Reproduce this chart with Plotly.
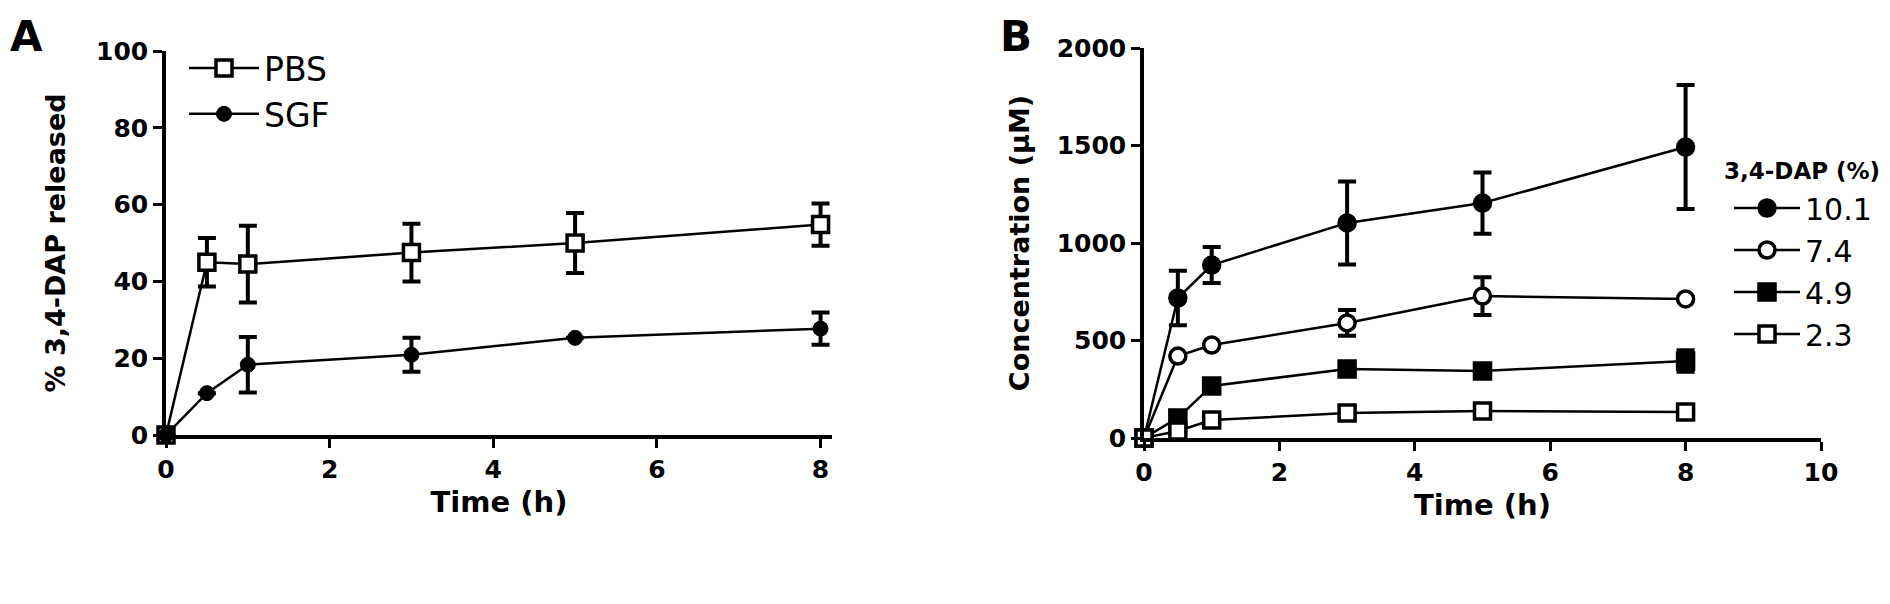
import plotly.graph_objects as go

# Panel A - release data
time_a = [0, 0.5, 1, 3, 5, 8]
pbs = [0, 45, 44.5, 47.5, 50, 54.8]
pbs_err = [0, 6.3, 10, 7.5, 7.8, 5.5]
sgf = [0, 10.9, 18.3, 20.9, 25.3, 27.7]
sgf_err = [0, 0, 7.2, 4.4, 0, 4.2]

# Panel B - concentration by loading
time_b = [0, 0.5, 1, 3, 5, 8]
loadings = ["10.1", "7.4", "4.9", "2.3"]
conc = {
    "10.1": [0, 718, 887, 1103, 1205, 1492],
    "7.4": [0, 420, 477, 590, 728, 713],
    "4.9": [0, 103, 267, 354, 344, 395],
    "2.3": [0, 36, 92, 128, 138, 133],
}
conc_err = {
    "10.1": [0, 140, 92, 213, 157, 318],
    "7.4": [0, 0, 0, 66, 97, 0],
    "4.9": [0, 0, 0, 0, 0, 55],
    "2.3": [0, 0, 0, 0, 0, 0],
}
markers = {
    "10.1": ("circle", "black"),
    "7.4": ("circle", "white"),
    "4.9": ("square", "black"),
    "2.3": ("square", "white"),
}

W, H = 1890, 604
FONT = "DejaVu Sans"


def px_x(p):
    return p / W


def px_y(p):
    return (H - p) / H


def err(vals):
    return dict(type="data", array=vals, visible=True, color="black", thickness=4, width=9)


fig = go.Figure()

fig.add_trace(go.Scatter(
    x=time_a, y=pbs, name="PBS", mode="lines+markers",
    line=dict(color="black", width=2.5),
    marker=dict(symbol="square", size=16, color="white", line=dict(color="black", width=3.5)),
    error_y=err(pbs_err), cliponaxis=False, xaxis="x", yaxis="y", legend="legend",
))
fig.add_trace(go.Scatter(
    x=time_a, y=sgf, name="SGF", mode="lines+markers",
    line=dict(color="black", width=2.5),
    marker=dict(symbol="circle", size=15, color="black", line=dict(color="black", width=1)),
    error_y=err(sgf_err), cliponaxis=False, xaxis="x", yaxis="y", legend="legend",
))

for name in loadings:
    sym, fill = markers[name]
    fig.add_trace(go.Scatter(
        x=time_b, y=conc[name], name=name, mode="lines+markers",
        line=dict(color="black", width=2.5),
        marker=dict(symbol=sym, size=16, color=fill, line=dict(color="black", width=3.5)),
        error_y=err(conc_err[name]), cliponaxis=False, xaxis="x2", yaxis="y2", legend="legend2",
    ))

axis_style = dict(
    showline=True, linewidth=3.5, linecolor="black", ticks="outside",
    tickwidth=3, ticklen=9, tickcolor="black", showgrid=False, zeroline=False,
    tickfont=dict(family=FONT, size=25, color="black", weight="bold"),
    automargin=False,
)
title_font = dict(family=FONT, size=27, color="black", weight="bold")
xtitle_font = dict(family=FONT, size=29, color="black", weight="bold")

fig.update_layout(
    width=W, height=H,
    margin=dict(l=0, r=0, t=0, b=0, autoexpand=False),
    plot_bgcolor="white", paper_bgcolor="white",
    xaxis=dict(domain=[px_x(158), px_x(824)], range=[0, 8.14], tickvals=[0, 2, 4, 6, 8],
               anchor="y", title=dict(text="Time (h)", font=xtitle_font, standoff=10), **axis_style),
    yaxis=dict(domain=[px_y(427), px_y(43)], range=[0, 100], tickvals=[0, 20, 40, 60, 80, 100],
               anchor="x", title=dict(text="% 3,4-DAP released", font=title_font, standoff=24), **axis_style),
    xaxis2=dict(domain=[px_x(1136), px_x(1813)], range=[0, 10], tickvals=[0, 2, 4, 6, 8, 10],
                anchor="y2", title=dict(text="Time (h)", font=xtitle_font, standoff=10), **axis_style),
    yaxis2=dict(domain=[px_y(430), px_y(40)], range=[0, 2000], tickvals=[0, 500, 1000, 1500, 2000],
                anchor="x2", title=dict(text="Concentration (μM)", font=title_font, standoff=20), **axis_style),
    legend=dict(x=px_x(176), y=px_y(32), xanchor="left", yanchor="top",
                font=dict(family=FONT, size=33, color="black"), itemwidth=70, bgcolor="rgba(0,0,0,0)"),
    legend2=dict(x=px_x(1721), y=px_y(174), xanchor="left", yanchor="top",
                 font=dict(family=FONT, size=30, color="black"), itemwidth=66, bgcolor="rgba(0,0,0,0)"),
    annotations=[
        dict(text="A", x=px_x(0), y=px_y(2), xref="paper", yref="paper", xanchor="left", yanchor="top",
             showarrow=False, font=dict(family=FONT, size=42, color="black", weight="bold")),
        dict(text="B", x=px_x(990), y=px_y(2), xref="paper", yref="paper", xanchor="left", yanchor="top",
             showarrow=False, font=dict(family=FONT, size=42, color="black", weight="bold")),
        dict(text="3,4-DAP (%)", x=px_x(1714), y=px_y(163), xref="paper", yref="paper",
             xanchor="left", yanchor="middle", showarrow=False,
             font=dict(family=FONT, size=23, color="black", weight="bold")),
    ],
)

fig.write_html("out.html")
